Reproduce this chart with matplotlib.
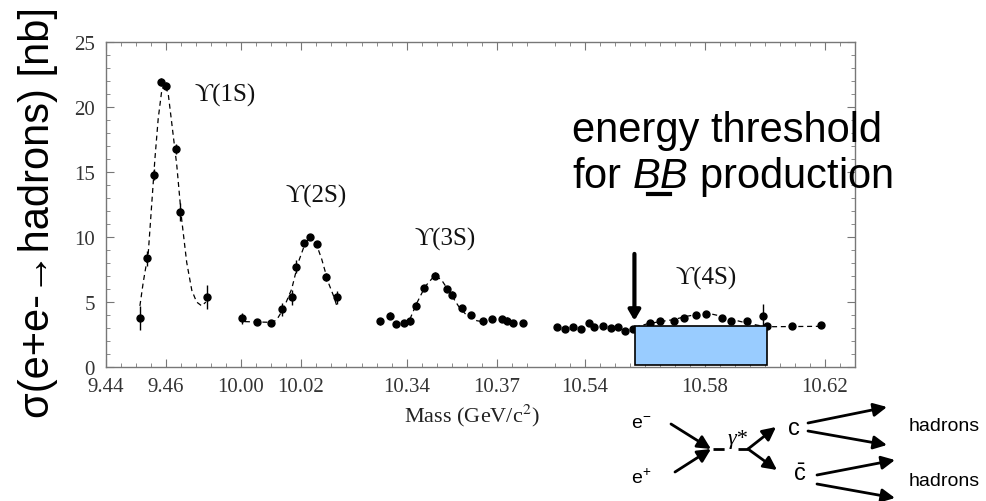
import numpy as np
import matplotlib
matplotlib.use('Agg')
import matplotlib.pyplot as plt
from matplotlib.patches import Rectangle, FancyArrowPatch
from matplotlib.lines import Line2D

plt.rcParams['mathtext.fontset'] = 'custom'
plt.rcParams['mathtext.rm'] = 'Liberation Sans'
plt.rcParams['mathtext.it'] = 'Liberation Sans:italic'

# Upsilon(1S)
m1 = [9.4513, 9.4538, 9.4560, 9.4582, 9.4600, 9.4632, 9.4647, 9.4738]
s1 = [3.77, 8.36, 14.8, 21.9, 21.6, 16.77, 11.9, 5.4]
e1 = [0.9, 0.6, 0.4, 0.3, 0.3, 0.4, 0.7, 0.9]
fit1_m = [9.4513, 9.4524, 9.4541, 9.4552, 9.4563, 9.4574, 9.4586, 9.4597, 9.4608,
          9.4619, 9.4636, 9.4652, 9.4669, 9.4686, 9.4702, 9.4719, 9.4733]
fit1_s = [4.7, 6.5, 8.8, 12.4, 16.0, 19.1, 21.3, 21.8, 20.9,
          18.8, 15.5, 11.4, 8.05, 5.9, 5.0, 4.7, 5.0]

# Upsilon(2S)
m2 = [10.0002, 10.0052, 10.0100, 10.0138, 10.0171, 10.0183, 10.0210, 10.0230,
      10.0252, 10.0283, 10.0321]
s2 = [3.74, 3.49, 3.36, 4.46, 5.36, 7.72, 9.54, 9.97, 9.46, 6.9, 5.36]
e2 = [0.4, 0.2, 0.2, 0.5, 0.6, 0.5, 0.2, 0.2, 0.2, 0.3, 0.5]
fit2_m = [10.0013, 10.0108, 10.0124, 10.0141, 10.0169, 10.0191, 10.0213, 10.0230,
          10.0247, 10.0269, 10.0291, 10.0308, 10.0321]
fit2_s = [3.49, 3.43, 3.82, 4.46, 6.0, 8.05, 9.46, 10.05, 9.72, 8.3, 6.5, 5.5, 4.6]

# Upsilon(3S)
m3 = [10.3309, 10.3344, 10.3363, 10.3391, 10.3409, 10.3431, 10.3458, 10.3492, 10.3533,
      10.3550, 10.3583, 10.3614, 10.3652, 10.3685, 10.3717, 10.3733, 10.3753, 10.3787]
s3 = [3.51, 3.95, 3.31, 3.38, 3.51, 4.72, 6.08, 7.03, 6.0,
      5.56, 4.51, 4.0, 3.51, 3.69, 3.69, 3.56, 3.38, 3.38]
e3 = [0.25] * len(m3)
fit3_m = [10.3383, 10.3411, 10.3433, 10.3461, 10.3494, 10.3517, 10.3544, 10.3572,
          10.3600, 10.3633, 10.3667]
fit3_s = [3.38, 3.74, 4.92, 6.2, 7.08, 6.64, 5.69, 4.67, 3.95, 3.56, 3.43]

# Upsilon(4S)
m4 = [10.5308, 10.5333, 10.5361, 10.5387, 10.5414, 10.5431, 10.5459, 10.5487, 10.5511,
      10.5533, 10.5561, 10.5617, 10.5650, 10.5698, 10.5731, 10.5769, 10.5802, 10.5858,
      10.5886, 10.5941, 10.5992, 10.6006, 10.6091, 10.6187]
s4 = [3.05, 2.92, 3.05, 2.92, 3.38, 3.1, 3.18, 3.0, 3.05,
      2.79, 2.92, 3.36, 3.56, 3.56, 3.77, 4.0, 4.08, 3.77,
      3.56, 3.56, 3.95, 3.18, 3.13, 3.23]
e4 = [0.15] * 20 + [0.9, 0.15, 0.15, 0.15]
fit4_m = [10.5567, 10.5606, 10.5650, 10.5694, 10.5739, 10.5783, 10.5817, 10.5856,
          10.5894, 10.5939, 10.5983, 10.6028, 10.6189]
fit4_s = [3.05, 3.31, 3.49, 3.64, 3.9, 4.08, 4.1, 3.9, 3.64, 3.38, 3.18, 3.1, 3.13]

segments = [(m1, s1, e1, fit1_m, fit1_s), (m2, s2, e2, fit2_m, fit2_s),
            (m3, s3, e3, fit3_m, fit3_s), (m4, s4, e4, fit4_m, fit4_s)]

peak_names = ['ϒ(1S)', 'ϒ(2S)', 'ϒ(3S)', 'ϒ(4S)']
peak_label_x = [9.4797, 10.0250, 10.3527, 10.5803]
peak_label_y = [21.0, 13.2, 9.9, 6.85]

xticks = [9.44, 9.46, 10.00, 10.02, 10.34, 10.37, 10.54, 10.58, 10.62]
xtick_labels = ['9.44', '9.46', '10.00', '10.02', '10.34', '10.37', '10.54', '10.58', '10.62']

threshold_m = 10.5565
box_m = (10.5567, 10.6006)
box_top = 3.18

# broken mass axis: pieces of the mass range glued side by side
brk_mass = [9.44, 9.4825, 9.9975, 10.0375, 10.3222, 10.3845, 10.5252, 10.63]
brk_pos = [0, 127.5, 127.5, 247.5, 247.5, 434.5, 434.5, 749]


def fwd(m):
    return np.interp(m, brk_mass, brk_pos)


def inv(u):
    return np.interp(u, brk_pos, brk_mass)


W, H = 987, 502
fig = plt.figure(figsize=(W / 100, H / 100), dpi=100)


def px(x, y):
    return x / W, 1 - y / H


ax = fig.add_axes([106 / W, 1 - 368 / H, (855 - 106) / W, (368 - 43) / H])
ax.set_xscale('function', functions=(fwd, inv))

for m, s, e, fm, fs in segments:
    ax.plot(fm, fs, color='k', lw=0.9, ls=(0, (4, 3)))
    ax.errorbar(m, s, yerr=e, fmt='o', ms=5, color='k', ecolor='k',
                elinewidth=1, capsize=0)

ax.set_xlim(9.44, 10.63)
ax.set_ylim(0, 25)

minor = []
for a, b in [(9.44, 9.4825), (10.00, 10.0375), (10.325, 10.3845), (10.53, 10.63)]:
    minor += list(np.arange(a, b + 1e-9, 0.005))
ax.set_xticks(xticks)
ax.set_xticklabels(xtick_labels)
ax.set_xticks(minor, minor=True)
ax.set_yticks(range(0, 26, 5))
ax.set_yticks(range(0, 26), minor=True)

for sp in ax.spines.values():
    sp.set_color('#777777')
    sp.set_linewidth(1)
ax.tick_params(which='both', direction='in', top=True, right=True, color='#777777')
ax.tick_params(which='major', length=6, labelsize=15, labelcolor='#333333')
ax.tick_params(axis='x', which='major', pad=7)
ax.tick_params(axis='y', which='major', pad=8)
ax.tick_params(which='minor', length=3)
for lab in ax.get_xticklabels() + ax.get_yticklabels():
    lab.set_family('Liberation Serif')

for name, lx, ly in zip(peak_names, peak_label_x, peak_label_y):
    ax.text(lx, ly, name, ha='center', va='center', fontsize=18,
            family=['Liberation Serif', 'DejaVu Serif'], color='#111111')

ax.add_patch(Rectangle((box_m[0], 0.12), box_m[1] - box_m[0], box_top - 0.12,
                       facecolor='#99CCFF', edgecolor='k', lw=1.2, zorder=5))
ax.annotate('', xy=(threshold_m, 3.56), xytext=(threshold_m, 8.7),
            arrowprops=dict(arrowstyle='-|>,head_length=0.6,head_width=0.35',
                            lw=3, color='k', shrinkA=0, shrinkB=0),
            zorder=6)

fig.text(*px(472, 416), 'Mass (GeV/c$^2$)', ha='center', va='center', fontsize=16,
         family='Liberation Serif', math_fontfamily='stix', color='#222222')

fig.text(*px(38, 213), 'σ(e+e-→hadrons) [nb]', rotation=90, ha='center', va='center',
         fontsize=30, family=['Liberation Sans', 'DejaVu Sans'])

fig.text(*px(572, 142), 'energy threshold', fontsize=30, family='Liberation Sans',
         va='baseline', ha='left')
fig.text(*px(572, 188), 'for $BB$ production', fontsize=30, family='Liberation Sans',
         va='baseline', ha='left')
fig.add_artist(Line2D([648 / W, 670 / W], [1 - 195 / H, 1 - 195 / H], color='k', lw=3))

# e+ e- -> gamma* -> c cbar -> hadrons
fs_small = 14
fig.text(*px(641, 424), 'e$^{-}$', ha='center', va='center', fontsize=fs_small,
         family='Liberation Sans')
fig.text(*px(641, 478), 'e$^{+}$', ha='center', va='center', fontsize=fs_small,
         family='Liberation Sans')
fig.text(*px(738, 440), 'γ*', ha='center', va='center', fontsize=16,
         family='Liberation Serif', style='italic')
fig.text(*px(794, 429), 'c', ha='center', va='center', fontsize=17, family='Liberation Sans')
fig.text(*px(800, 474), r'$\bar{\mathrm{c}}$', ha='center', va='center', fontsize=17)
fig.text(*px(944, 427), 'hadrons', ha='center', va='center', fontsize=fs_small,
         family='Liberation Sans')
fig.text(*px(944, 482), 'hadrons', ha='center', va='center', fontsize=fs_small,
         family='Liberation Sans')

fig.add_artist(Line2D([713 / W, 748 / W], [1 - 450 / H, 1 - 450 / H], color='k', lw=2,
                      ls=(0, (4, 5))))
arrows = [((671, 425), (711, 450)), ((675, 473), (711, 450)),
          ((748, 450), (776, 428)), ((748, 450), (777, 471)),
          ((808, 424), (887, 408)), ((808, 432), (887, 446)),
          ((817, 476), (895, 461)), ((817, 485), (895, 499))]
for (x0, y0), (x1, y1) in arrows:
    fig.add_artist(FancyArrowPatch(
        px(x0, y0), px(x1, y1), transform=fig.transFigure,
        arrowstyle='-|>,head_length=0.5,head_width=0.25', mutation_scale=16,
        lw=2, color='k', shrinkA=0, shrinkB=0))

fig.savefig('out.png', dpi=100)
